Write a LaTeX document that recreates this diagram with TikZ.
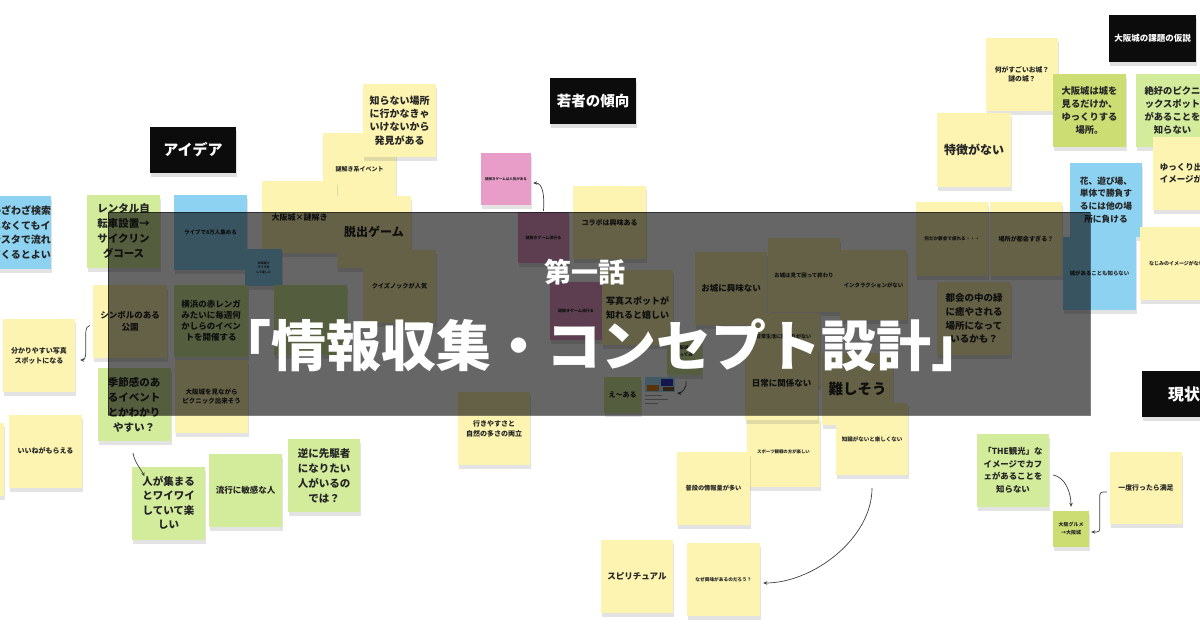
\documentclass[tikz,border=0pt]{standalone}
\usepackage{fontspec}
\setmainfont{Noto Sans CJK JP}
\usetikzlibrary{shadows,calc,arrows.meta}
\definecolor{ny}{HTML}{FCF4B0}
\definecolor{ng}{HTML}{D3EC9B}
\definecolor{no}{HTML}{CCDD74}
\definecolor{nb}{HTML}{8DD2F1}
\definecolor{np}{HTML}{E79DC8}
\definecolor{nt}{HTML}{262626}
\definecolor{hd}{HTML}{0C0C0C}
\tikzset{
  f/.style 2 args={font={\bfseries\fontsize{#1}{#2}\selectfont}},
  sz/.style 2 args={minimum width=#1pt, minimum height=#2pt},
  note/.style={inner sep=1pt, align=center, text=nt, font=\bfseries,
    minimum width=73pt, minimum height=73pt,
    drop shadow={shadow xshift=1pt, shadow yshift=-4pt, opacity=0.22}},
  yel/.style={note, fill=ny},
  grn/.style={note, fill=ng},
  olv/.style={note, fill=no},
  blu/.style={note, fill=nb},
  pnk/.style={note, fill=np},
  hdr/.style={fill=hd, text=white, inner sep=1pt, font=\bfseries,
    minimum width=86pt, minimum height=46pt,
    drop shadow={shadow xshift=1pt, shadow yshift=-4pt, opacity=0.25}},
  conn/.style={draw=black!75, line width=0.7pt, -{Stealth[length=4pt,width=3.5pt]}},
  txt/.style={text=nt, align=center, inner sep=0pt},
}
\begin{document}
\begin{tikzpicture}[x=1pt,y=-1pt]
\useasboundingbox (0,0) rectangle (1200,630);
\clip (0,0) rectangle (1200,630);
\fill[white] (0,0) rectangle (1200,630);

% ---------- left group ----------
\node[blu, sz={76}{73}] (wz) at (13,232.5) {};
\node[txt, f={10}{14.5}] (wzt) at (21,232.5) {わざわざ検索\\しなくてもイ\\ンスタで流れ\\てくるとよい};
\node[grn, f={10.5}{15}] (rental) at (123.5,231.5) {レンタル自\\転車設置→\\サイクリン\\グコース};
\node[blu, sz={73}{75}, f={5.5}{7}] (live) at (210.5,232.5) {ライブで8万人集める};
\node[yel, f={6}{8}] (nazoev) at (359.5,169.5) {謎解き系イベント};
\node[yel, sz={75}{72}, f={8}{10}] (nazox) at (299.5,217) {大阪城×謎解き};
\node[yel, f={10}{13.3}] (shiranai) at (399.5,120.5) {知らない場所\\に行かなきゃ\\いけないから\\発見がある};
\node[yel, sz={74}{72}, f={12}{14}] (dasshutsu) at (374,232) {脱出ゲーム};
\node[yel, f={6.2}{8}] (quiz) at (399.5,286) {クイズノックが人気};
\node[blu, sz={37}{37}, f={3}{4.5}] (teal) at (263.5,267.5) {大阪城で\\ライブを\\してほしい};
\node[grn, sz={73}{70}] (grnu) at (310.5,320) {};

\node[yel, sz={74}{73}, f={8.5}{12}] (symbol) at (130,321.5) {シンボルのある\\公園};
\node[grn, sz={74}{72}, f={8.5}{11}] (yokohama) at (211,321) {横浜の赤レンガ\\みたいに毎週何\\かしらのイベン\\トを開催する};
\node[yel, f={6.5}{9}] (picnic) at (211.5,396.5) {大阪城を見ながら\\ピクニック出来そう};
\node[grn, f={10.5}{15}] (kisetsu) at (134,404.5) {季節感のあ\\るイベント\\とかわかり\\やすい？};
\node[yel, sz={72}{73}, f={7}{10}] (shashin) at (39,355.5) {分かりやすい写真\\スポットになる};
\node[yel] (sliver) at (-33,459) {};
\node[yel, f={7}{9}] (iine) at (45.5,451) {いいねがもらえる};
\node[grn, f={10.5}{14.5}] (hito) at (168.5,503) {人が集まる\\とワイワイ\\していて楽\\しい};
\node[grn, f={8.5}{11}] (ryuko) at (245.5,490.5) {流行に敏感な人};
\node[grn, sz={72}{73}, f={10.5}{15}] (gyaku) at (324,475.5) {逆に先駆者\\になりたい\\人がいるの\\では？};

% ---------- middle group ----------
\node[pnk, sz={50}{52}, f={3.5}{5}] (pink) at (506,179) {謎解きゲームは人気がある};
\node[pnk, sz={51}{51}, f={4}{5}] (dp1) at (543.5,237.5) {謎解きゲーム流行る};
\node[yel, f={7}{9}] (collab) at (609.5,222.5) {コラボは興味ある};
\node[pnk, sz={52}{58}, f={4}{5}] (dp2) at (576,311) {謎解きゲーム流行る};
\node[yel, sz={71}{75}, f={9}{14}] (photo) at (637.5,307.5) {写真スポットが\\知れると嬉しい};
\node[yel, sz={72}{73}, f={8.5}{11}] (kyomi) at (731,288.5) {お城に興味ない};
\node[yel, sz={72}{74}, f={5.4}{7}] (miru) at (804,275) {お城は見て回って終わり};
\node[yel, sz={67}{70}, f={5.4}{7}] (inter) at (873.5,285) {インタラクションがない};
\node[yel] (kankei) at (783.5,349) {};
\node[txt, f={5}{7}] (kankeit) at (783.5,337) {日常生活に関わりがない};
\node[yel, sz={73}{70}, f={4.4}{6}] (sports) at (783.5,452) {スポーツ観戦の方が楽しい};
\node[yel, f={8.5}{11}] (nichijo) at (781.5,383.5) {日常に関係ない};
\node[yel, sz={71}{72}, f={14.5}{17}] (muzu) at (857.5,389) {難しそう};
\node[yel, sz={72}{72}, f={5.5}{7}] (chishiki) at (872,439) {知識がないと楽しくない};
\node[yel, f={6.2}{8}] (fudan) at (713.5,488.5) {普段の情報量が多い};
\node[yel, sz={72}{73}, f={8.5}{11}] (spirit) at (637,576.5) {スピリチュアル};
\node[yel, f={4.7}{7}] (sore) at (723.5,579.5) {なぜ興味があるのだろう？};
\node[yel, sz={72}{73}, f={7}{10}] (ikiyasu) at (494,428.5) {行きやすさと\\自然の多さの両立};
\node[grn, sz={37}{36}, f={7}{9}] (eh) at (622.5,395) {え〜ある};
\node[grn, sz={35}{40}, f={4.5}{7.5}] (gs2) at (684,355) {大阪城に\\行ってみ\\たくなる};
\node[fill=cyan!35!white, sz={30}{15}, inner sep=0pt] (thumb) at (660,384.5) {};
\fill[orange!60!brown] (647,385) rectangle (659,391);
\fill[blue!55!gray] (661,379) rectangle (673,386);
\fill[brown!70!black] (663,387) rectangle (674,391);
\fill[gray!70] (645,395) rectangle (662,396.2);
\fill[gray!70] (645,399) rectangle (668,400.2);
\fill[gray!70] (645,403) rectangle (658,404.2);

% ---------- right group ----------
\node[yel, sz={72}{73}, f={6.8}{9}] (sugoi) at (1022,74.5) {何がすごいお城？\\謎の城？};
\node[olv, f={9.3}{13}] (ojo) at (1089.5,110.5) {大阪城は城を\\見るだけか、\\ゆっくりする\\場所。};
\node[grn, f={9.3}{13}] (zekko) at (1172.5,110.5) {絶好のピクニ\\ックスポット\\があることを\\知らない};
\node[yel, sz={74}{74}, f={12}{14}] (toku) at (974,150) {特徴がない};
\node[yel, f={8.5}{12}] (yukkuri) at (1189.5,173.5) {ゆっくり出来る\\イメージがない};
\node[blu, sz={72}{74}, f={8.7}{12.7}] (hana) at (1106,200) {花、遊び場、\\単体で勝負す\\るには他の場\\所に負ける};
\node[yel, sz={72}{74}, f={4.6}{6}] (nandaka) at (952,239) {何だか都会で疲れる・・・};
\node[yel, sz={72}{74}, f={6.1}{8}] (basho) at (1026,239) {場所が都会すぎる？};
\node[yel, f={5}{7}] (najimi) at (1176.5,263.5) {なじみのイメージがない};
\node[blu, f={5.4}{7}] (shitte) at (1099.5,273.5) {城があることも知らない};
\node[yel, sz={74}{73}, f={9.5}{13.7}] (tokai) at (974,318.5) {都会の中の緑\\に癒やされる\\場所になって\\いるかも？};
\node[grn, sz={72}{73}, f={8.4}{12.5}] (the) at (1013,470.5) {「THE観光」な\\イメージでカフ\\ェがあることを\\知らない};
\node[olv, sz={36}{36}, f={5}{8}] (gourmet) at (1071,529) {大阪グルメ\\→大阪城};
\node[yel, sz={72}{72}, f={6.9}{9}] (ichido) at (1146,488) {一度行ったら満足};

% ---------- headers ----------
\node[hdr, f={15}{18}] (h1) at (193,150) {アイデア};
\node[hdr, f={14.5}{17}] (h2) at (593,101) {若者の傾向};
\node[hdr, sz={87}{47}, f={8.5}{10}] (h3) at (1152.5,38.5) {大阪城の課題の仮説};
\node[hdr, sz={110}{46}] (h4) at (1197,394) {};
\node[text=white, f={16}{18}, anchor=west, inner sep=0pt] (h4t) at (1168,394) {現状};

% ---------- connectors ----------
\coordinate (c1a) at ($(symbol.west)+(-7,20)$);
\draw[conn] ($(symbol.west)+(-3,4)$) .. controls +(-5,1) and +(0,-8) .. (c1a)
  .. controls +(0,12) and +(6,0) .. ($(shashin.east)+(5,4.5)$);
\draw[conn] ($(kisetsu.south)+(-1,12)$) .. controls +(2,10) and +(-4,-8) .. ($(hito.north)+(-24,10)$);
\draw[conn] ($(dp1.north)+(0,-1)$) .. controls +(1,-14) and +(10,0) .. ($(pink.east)+(2,4)$);
\draw[conn] ($(chishiki.south)+(0,13)$) .. controls +(0,50) and +(50,0) .. ($(sore.east)+(3,3.5)$);
\draw[conn] ($(the.east)+(4,4.5)$) .. controls +(12,2) and +(0,-14) .. ($(gourmet.north)+(0,-4)$);
\draw[conn, rounded corners=3pt] ($(ichido.west)+(-3,4)$) -- ++(-7,0) |- ($(gourmet.east)+(2,3)$);
\draw[conn] ($(thumb.east)+(11,-3)$) .. controls +(1,6) and +(4,0) .. ($(thumb.south east)+(2,1)$);

% ---------- banner ----------
\fill[black, opacity=0.6] (108,212) rectangle (1090,415);
\draw[black, opacity=0.5, line width=0.8pt] (108,212) rectangle (1090,415);
\node[text=white, f={27}{30}, inner sep=0pt] (t1) at (585,272) {第一話};
\node[text=white, f={55}{60}, inner sep=0pt] (t2) at (601,345) {「情報収集・コンセプト設計」};
\end{tikzpicture}
\end{document}
